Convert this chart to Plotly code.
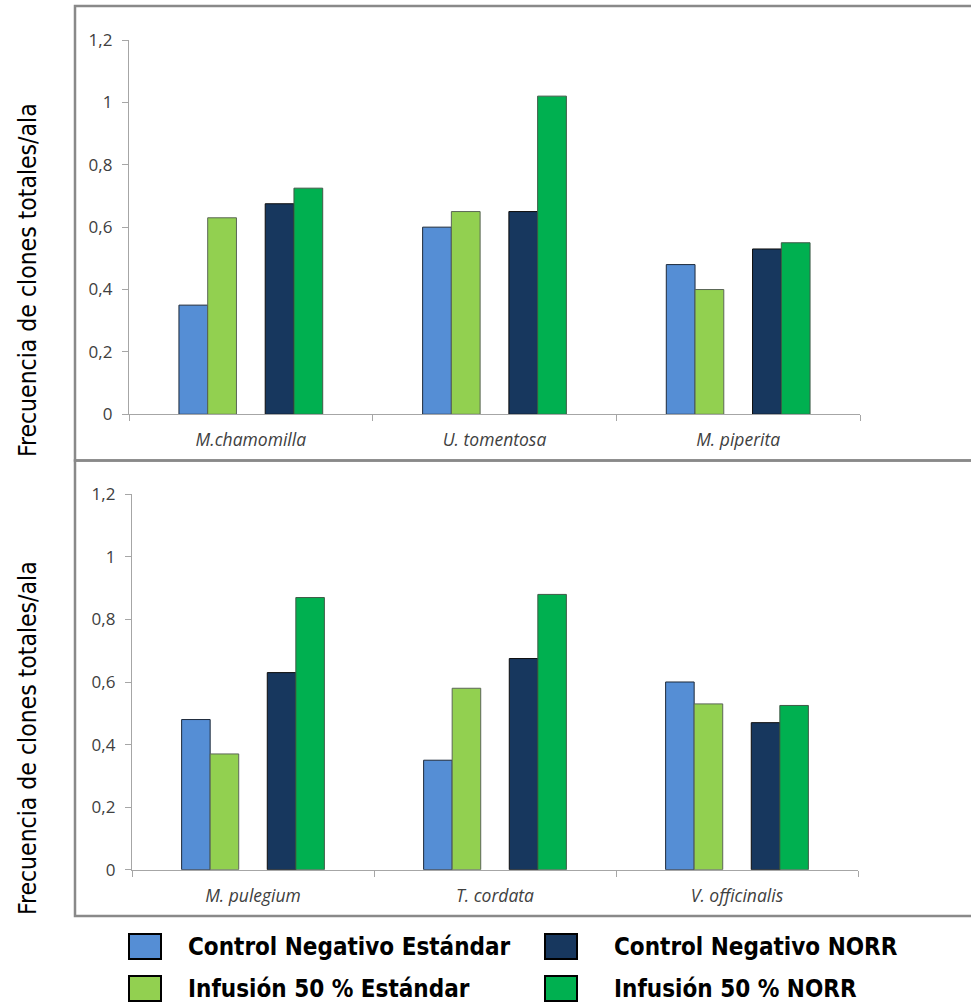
import plotly.graph_objects as go

# ---- data -------------------------------------------------------------
species_top = ["M.chamomilla", "U. tomentosa", "M. piperita"]
species_bottom = ["M. pulegium", "T. cordata", "V. officinalis"]

series_names = [
    "Control Negativo Estándar",
    "Infusión 50 % Estándar",
    "Control Negativo NORR",
    "Infusión 50 % NORR",
]

ctrl_std_top = [0.35, 0.60, 0.48]
inf_std_top = [0.63, 0.65, 0.40]
ctrl_norr_top = [0.675, 0.65, 0.53]
inf_norr_top = [0.725, 1.02, 0.55]

ctrl_std_bottom = [0.48, 0.35, 0.60]
inf_std_bottom = [0.37, 0.58, 0.53]
ctrl_norr_bottom = [0.63, 0.675, 0.47]
inf_norr_bottom = [0.87, 0.88, 0.525]

y_tick_values = [0, 0.2, 0.4, 0.6, 0.8, 1.0, 1.2]
y_title = "Frecuencia de clones totales/ala"

# ---- style ------------------------------------------------------------
W, H = 971, 1002
fills = ["#558ED5", "#92D050", "#17375E", "#00B050"]
outlines = ["#1e2a3a", "#5b6656", "#0d0d0d", "#3f5a47"]
bar_w = 0.118
slots = [-2.5, -1.5, 0.5, 1.5]  # blank slot between the two pairs
axis_grey = "#a6a6a6"
label_family = "Open Sans, Liberation Sans, sans-serif"


def fx(px):
    return px / W


def fy(py):
    return 1 - py / H


panels = [
    dict(cats=species_top,
         vals=[ctrl_std_top, inf_std_top, ctrl_norr_top, inf_norr_top],
         xd=[fx(129), fx(860)], yd=[fy(414.3), fy(40)],
         box=(75, 6, 980, 460.5), title_y=280),
    dict(cats=species_bottom,
         vals=[ctrl_std_bottom, inf_std_bottom, ctrl_norr_bottom, inf_norr_bottom],
         xd=[fx(132), fx(858)], yd=[fy(869.7), fy(494.3)],
         box=(75, 460.5, 980, 916), title_y=738),
]

fig = go.Figure()
shapes, annotations = [], []

for p_i, p in enumerate(panels, start=1):
    xa = "x" if p_i == 1 else f"x{p_i}"
    ya = "y" if p_i == 1 else f"y{p_i}"
    for s_i, vals in enumerate(p["vals"]):
        fig.add_trace(go.Bar(
            x=p["cats"], y=vals, name=series_names[s_i],
            width=bar_w, offset=slots[s_i] * bar_w,
            marker=dict(color=fills[s_i], line=dict(color=outlines[s_i], width=1)),
            xaxis=xa, yaxis=ya, showlegend=False,
        ))
    xkey = "xaxis" if p_i == 1 else f"xaxis{p_i}"
    ykey = "yaxis" if p_i == 1 else f"yaxis{p_i}"
    fig.update_layout({
        xkey: dict(domain=p["xd"], anchor=ya, type="category", automargin=False,
                   range=[-0.5, 2.5], showline=True, linecolor=axis_grey, linewidth=1.3,
                   ticks="outside", tickson="boundaries", ticklen=6, tickcolor=axis_grey,
                   tickwidth=1.3, showgrid=False, zeroline=False,
                   ticklabelstandoff=10,
                   tickfont=dict(family=label_family, size=17.5,
                                 color="#404040", style="italic")),
        ykey: dict(domain=p["yd"], anchor=xa, range=[0, 1.2], automargin=False,
                   tickvals=y_tick_values, showline=True, linecolor=axis_grey,
                   linewidth=1.3, ticks="outside", ticklen=6, tickcolor=axis_grey,
                   tickwidth=1.3, showgrid=False, zeroline=False,
                   ticklabelstandoff=6,
                   tickfont=dict(family=label_family, size=17, color="#404040")),
    })
    x0, y0, x1, y1 = p["box"]
    shapes.append(dict(type="rect", xref="paper", yref="paper",
                       x0=fx(x0), x1=fx(x1), y0=fy(y1), y1=fy(y0),
                       line=dict(color="#898989", width=2.5), layer="below"))
    annotations.append(dict(text=y_title, xref="paper", yref="paper",
                            x=fx(27), y=fy(p["title_y"]), textangle=-90,
                            showarrow=False, xanchor="center", yanchor="middle",
                            font=dict(family="DejaVu Sans Condensed, sans-serif",
                                      size=24.5, color="#000000")))

# ---- legend (two rows, two columns) ---------------------------------------
legend_order = [0, 2, 1, 3]
col_key_x = [129, 545]
col_text_x = [186, 612]
row_y = [946.5, 988.5]
key_w, key_h = 32, 25
for pos, s_i in enumerate(legend_order):
    r, c = divmod(pos, 2)
    kx, ky = col_key_x[c], row_y[r]
    shapes.append(dict(type="rect", xref="paper", yref="paper",
                       x0=fx(kx), x1=fx(kx + key_w),
                       y0=fy(ky + key_h / 2), y1=fy(ky - key_h / 2),
                       fillcolor=fills[s_i], line=dict(color="#000000", width=2)))
    annotations.append(dict(text=f"<b>{series_names[s_i]}</b>", xref="paper", yref="paper",
                            x=fx(col_text_x[c]), y=fy(ky), showarrow=False,
                            xanchor="left", yanchor="middle",
                            font=dict(family="DejaVu Sans Condensed, sans-serif",
                                      size=24, color="#000000")))

fig.update_layout(
    width=W, height=H, margin=dict(l=0, r=0, t=0, b=0, autoexpand=False),
    paper_bgcolor="white", plot_bgcolor="white",
    barmode="overlay", separators=", ",
    shapes=shapes, annotations=annotations, showlegend=False,
)

fig.write_html("out.html")
